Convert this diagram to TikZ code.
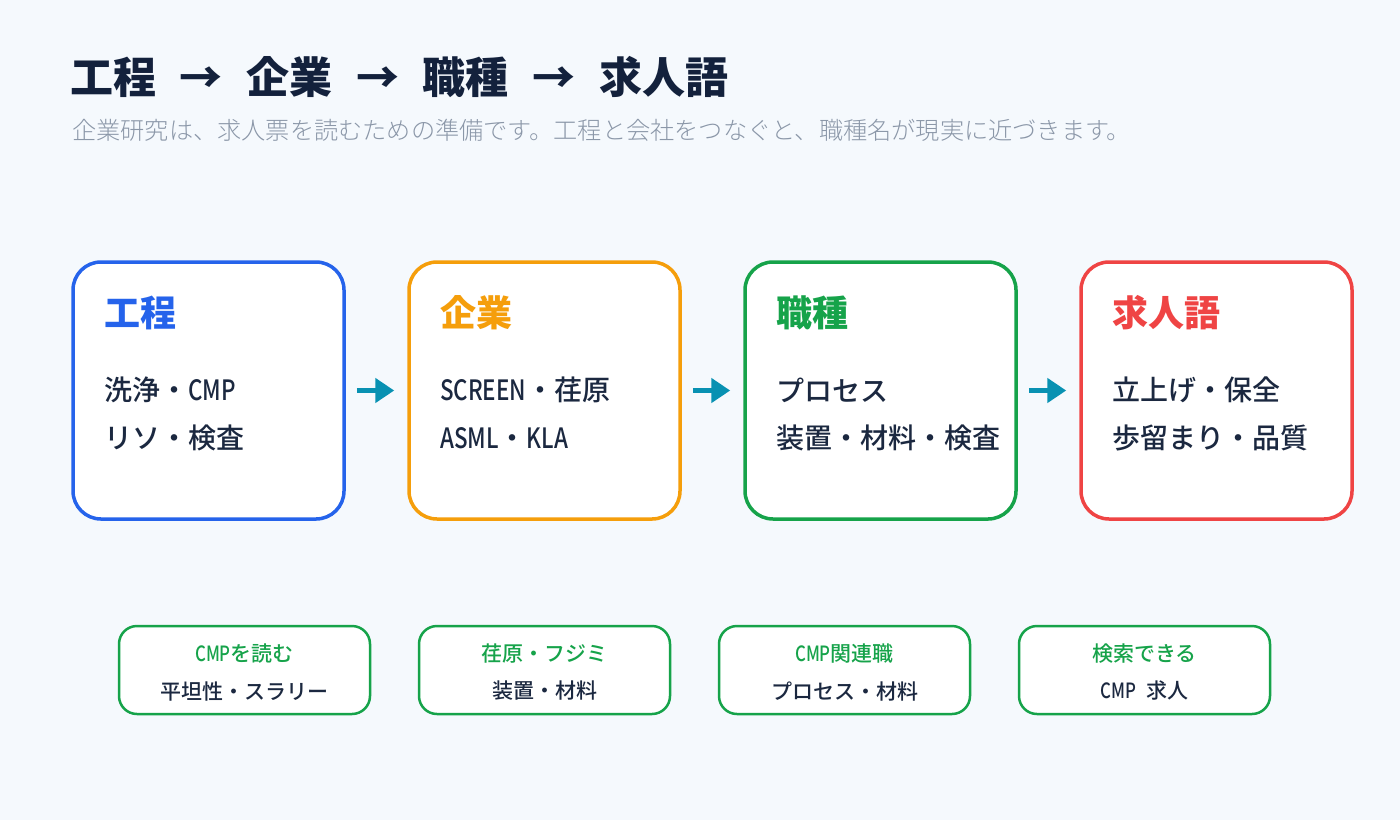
\documentclass[tikz,border=0pt]{standalone}
\usepackage{fontspec}
\setmainfont{Noto Sans CJK JP}
\newfontfamily\jpmed{Noto Sans CJK JP Medium}
\newfontfamily\jplight{Noto Sans CJK JP Light}
\newfontfamily\latmed{Noto Sans CJK JP Medium}[FakeStretch=0.8]
\usetikzlibrary{arrows.meta}
\definecolor{bgc}{HTML}{F5F9FD}
\definecolor{navy}{HTML}{13213C}
\definecolor{ink}{HTML}{1B2840}
\definecolor{subg}{HTML}{8B97A8}
\definecolor{cblue}{HTML}{2563EB}
\definecolor{corange}{HTML}{F59E0B}
\definecolor{cgreen}{HTML}{16A34A}
\definecolor{cred}{HTML}{EF4444}
\definecolor{teal}{HTML}{0891B2}
\newcommand{\lt}[1]{{\latmed #1}}
\tikzset{
  bigbox/.style={draw, line width=3.5pt, fill=white, rounded corners=28pt,
    minimum width=271pt, minimum height=257pt, inner sep=0pt},
  smallbox/.style={draw=cgreen, line width=2.5pt, fill=white, rounded corners=18pt,
    minimum width=251pt, minimum height=88pt, inner sep=0pt},
  head/.style={anchor=west, inner sep=0pt, font=\bfseries\fontsize{36}{42}\selectfont},
  bodyt/.style={anchor=west, inner sep=0pt, text=ink, font=\jpmed\fontsize{28}{32}\selectfont},
  stop/.style={inner sep=0pt, text=cgreen, font=\jpmed\fontsize{21}{25}\selectfont},
  sbot/.style={inner sep=0pt, text=ink, font=\jpmed\fontsize{21}{25}\selectfont},
  flow/.style={draw=teal, line width=5.5pt, -{Triangle[length=19pt,width=24pt]},
    shorten <=11pt, shorten >=13pt}
}
\begin{document}
\begin{tikzpicture}[x=1pt,y=-1pt]
\fill[bgc] (0,0) rectangle (1400,820);
\useasboundingbox (0,0) rectangle (1400,820);

\node[anchor=west, inner sep=0pt, text=navy, font=\bfseries\fontsize{43}{50}\selectfont] (title) at (70,77)
  {工程\hspace{0.55em}→\hspace{0.55em}企業\hspace{0.55em}→\hspace{0.55em}職種\hspace{0.55em}→\hspace{0.55em}求人語};
\node[anchor=west, inner sep=0pt, text=subg, font=\jplight\fontsize{24.2}{28}\selectfont] (sub) at (72,130)
  {企業研究は、求人票を読むための準備です。工程と会社をつなぐと、職種名が現実に近づきます。};

\node[bigbox, draw=cblue] (b1) at (208.5,390.5) {};
\node[bigbox, draw=corange] (b2) at (544.5,390.5) {};
\node[bigbox, draw=cgreen] (b3) at (880.5,390.5) {};
\node[bigbox, draw=cred] (b4) at (1216.5,390.5) {};

\node[head, text=cblue] (h1) at (104,313) {工程};
\node[bodyt] (t1a) at (104,390) {洗浄・\lt{CMP}};
\node[bodyt] (t1b) at (104,438) {リソ・検査};

\node[head, text=corange] (h2) at (440,313) {企業};
\node[bodyt] (t2a) at (440,390) {\lt{SCREEN}・荏原};
\node[bodyt] (t2b) at (440,438) {\lt{ASML}・\lt{KLA}};

\node[head, text=cgreen] (h3) at (776,313) {職種};
\node[bodyt] (t3a) at (776,390) {プロセス};
\node[bodyt] (t3b) at (776,438) {装置・材料・検査};

\node[head, text=cred] (h4) at (1112,313) {求人語};
\node[bodyt] (t4a) at (1112,390) {立上げ・保全};
\node[bodyt] (t4b) at (1112,438) {歩留まり・品質};

\draw[flow] (b1.east) -- (b2.west);
\draw[flow] (b2.east) -- (b3.west);
\draw[flow] (b3.east) -- (b4.west);

\node[smallbox] (s1) at (244.5,670) {};
\node[smallbox] (s2) at (544.5,670) {};
\node[smallbox] (s3) at (844.5,670) {};
\node[smallbox] (s4) at (1144.5,670) {};

\node[stop] (s1a) at (244.5,654) {\lt{CMP}を読む};
\node[sbot] (s1b) at (244.5,691) {平坦性・スラリー};
\node[stop] (s2a) at (544.5,654) {荏原・フジミ};
\node[sbot] (s2b) at (544.5,691) {装置・材料};
\node[stop] (s3a) at (844.5,654) {\lt{CMP}関連職};
\node[sbot] (s3b) at (844.5,691) {プロセス・材料};
\node[stop] (s4a) at (1144.5,654) {検索できる};
\node[sbot] (s4b) at (1144.5,691) {\lt{CMP}\hspace{0.45em}求人};
\end{tikzpicture}
\end{document}
